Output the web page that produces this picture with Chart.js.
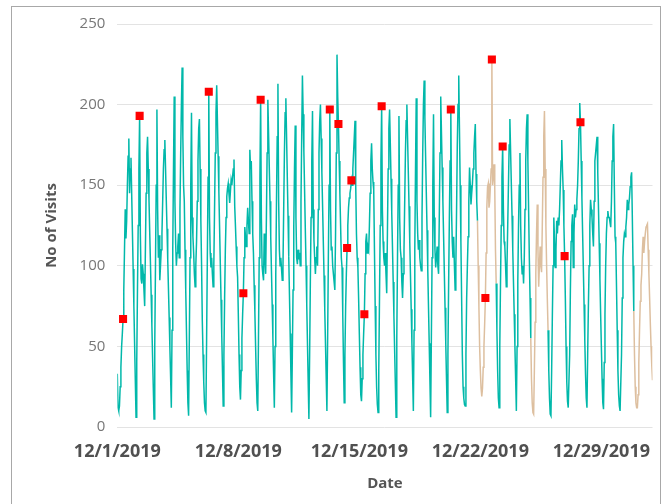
<!DOCTYPE html>
<html><head><meta charset="utf-8">
<script src="https://cdn.jsdelivr.net/npm/chart.js@4.4.1/dist/chart.umd.min.js"></script>
<style>
html,body{margin:0;padding:0;background:#fff;}
#wrap{position:relative;width:667px;height:504px;overflow:hidden;}
#frame{position:absolute;left:11px;top:6px;width:650px;height:540px;border:1px solid #a8a8a8;box-sizing:border-box;}
#c{position:absolute;left:0;top:0;}
</style></head>
<body><div id="wrap"><div id="frame"></div><canvas id="c" width="667" height="504"></canvas></div>
<script>
// Hourly visits, 1 Dec 2019 00:00 .. 31 Dec 2019 23:00 (one row per day)
const visits = [
 33,12,10,13,25,37,50,58,67,85,110,135,117,128,150,168,179,145,160,167,144,121,98,75,
 52,29,6,40,85,125,160,193,120,92,89,101,95,85,75,110,145,170,180,160,141,121,102,82,
 63,43,24,5,50,100,150,197,135,105,119,91,100,110,120,140,160,172,178,160,141,123,104,86,
 68,49,31,12,60,110,160,205,140,114,100,108,112,120,105,135,170,200,223,180,150,140,110,85,
 60,35,15,7,55,105,150,195,130,118,108,95,87,100,115,140,165,185,191,160,128,100,66,45,
 28,15,10,9,55,105,155,208,130,108,99,105,95,87,100,135,170,195,212,190,168,146,124,101,
 79,57,35,13,45,80,110,130,143,148,151,145,139,146,153,150,155,160,166,137,125,112,100,93,
 70,45,25,17,35,55,70,83,105,124,118,112,125,136,128,120,172,160,165,140,120,108,88,71,
 50,30,15,10,55,105,155,203,130,100,95,91,120,105,95,130,170,203,182,161,140,118,97,76,
 55,33,12,50,95,140,180,213,140,110,100,105,98,91,100,135,170,195,204,180,155,131,106,82,
 58,33,9,45,85,125,160,187,130,105,101,110,104,108,100,140,180,218,194,171,147,123,100,76,
 52,28,5,45,90,130,165,196,135,116,105,95,105,112,100,135,170,190,200,179,158,137,115,94,
 73,52,31,10,55,105,150,197,135,110,112,100,95,90,85,120,170,231,205,188,165,145,125,105,
 99,70,40,15,45,75,95,111,125,136,142,145,148,153,150,160,170,180,190,150,120,105,99,80,
 58,37,20,16,30,45,58,70,95,115,120,108,112,110,125,145,165,176,160,152,147,110,75,45,
 25,14,9,35,80,125,165,199,135,115,105,100,108,95,83,120,160,185,197,176,154,133,112,90,
 69,48,27,6,55,105,150,193,130,110,105,90,80,95,110,140,170,190,200,179,158,137,115,94,
 73,52,31,10,60,110,160,204,140,120,110,116,105,100,97,130,170,200,215,192,168,145,122,98,
 75,52,29,6,55,105,150,194,130,110,99,105,112,100,95,130,170,205,183,161,140,118,96,74,
 52,30,9,45,90,130,165,197,135,115,105,118,100,85,100,135,175,200,218,185,150,115,80,45,
 25,18,14,13,45,80,100,118,140,161,150,138,145,151,160,170,180,188,157,140,128,100,75,50,
 35,24,19,24,37,50,64,80,108,136,149,151,136,140,150,160,228,150,155,163,149,110,89,60,
 35,18,12,50,90,125,155,174,135,115,112,100,87,100,125,150,175,191,171,151,131,110,90,70,
 50,30,10,50,90,125,150,170,125,105,95,100,89,105,135,165,185,194,165,135,105,80,55,30,
 15,9,8,35,65,95,120,138,110,87,100,112,100,96,125,155,180,196,160,125,100,79,60,35,
 18,8,7,35,70,100,130,115,99,110,128,120,130,125,135,150,165,178,160,147,125,106,80,50,
 28,16,12,12,45,85,115,125,132,99,120,138,130,135,141,150,165,185,201,189,165,142,120,98,
 76,54,33,18,12,45,75,100,125,141,135,130,120,112,140,165,170,175,180,158,136,114,92,70,
 50,30,15,11,40,70,100,120,130,134,130,130,127,124,140,165,180,188,150,118,114,88,60,35,
 20,13,10,10,45,80,105,115,120,118,124,130,141,135,138,142,149,155,158,130,100,72,45,25,
 15,12,12,20,40,60,78,88,95,110,118,108,115,120,124,125,126,110,95,80,64,50,38,29
];
// hour-index ranges drawn in the second (tan) colour
const altRanges = [[500, 526], [574, 598], [717, 743]];
// hour indices flagged as anomalies (red squares)
const anomalyHours = [8, 31, 127, 175, 199, 295, 307, 319, 325, 343, 367, 463, 511, 520, 535, 621, 643];
// x-axis ticks
const tickHours = [0, 168, 336, 504, 672];
const tickLabels = ['12/1/2019', '12/8/2019', '12/15/2019', '12/22/2019', '12/29/2019'];
const yTicks = [0, 50, 100, 150, 200, 250];

const TEAL = '#01B8AA', TAN = '#DDBF9F';
const isAlt = (a, b) => altRanges.some(([s, e]) => a >= s && b <= e);

new Chart(document.getElementById('c'), {
  type: 'line',
  data: {
    datasets: [
      {
        type: 'scatter',
        data: anomalyHours.map(h => ({x: h, y: visits[h]})),
        pointStyle: 'rect', pointRadius: 5.7, pointHoverRadius: 5.7,
        backgroundColor: '#ff0000', borderWidth: 0, order: 0
      },
      {
        type: 'line',
        data: visits.map((v, i) => ({x: i, y: v})),
        borderColor: TEAL, borderWidth: 1.5, pointRadius: 0, tension: 0, fill: false,
        segment: {borderColor: ctx => isAlt(ctx.p0DataIndex, ctx.p1DataIndex) ? TAN : TEAL},
        order: 1
      }
    ]
  },
  options: {
    responsive: false, animation: false, devicePixelRatio: 1,
    layout: {padding: {top: 24, right: 14.5, bottom: 0, left: 0}},
    plugins: {legend: {display: false}, tooltip: {enabled: false}},
    scales: {
      x: {
        type: 'linear', min: 0, max: 743,
        afterBuildTicks: s => { s.ticks = tickHours.map(v => ({value: v})); },
        afterFit: s => { s.height = 77; },
        grid: {display: false, drawTicks: false}, border: {display: false},
        ticks: {autoSkip: false, maxRotation: 0, padding: 14, color: '#505050',
          font: {family: 'Open Sans', size: 18, weight: 'bold'},
          callback: v => tickLabels[tickHours.indexOf(v)]},
        title: {display: true, text: 'Date', color: '#555',
          font: {family: 'Open Sans', size: 15, weight: 'bold'}, padding: {top: 0, bottom: 11}}
      },
      y: {
        min: 0, max: 250,
        afterBuildTicks: s => { s.ticks = yTicks.map(v => ({value: v})); },
        afterFit: s => { s.width = 117.3; },
        grid: {color: '#e3e3e3', drawTicks: false}, border: {display: false},
        ticks: {padding: 12, color: '#777', font: {family: 'Open Sans', size: 15}},
        title: {display: true, text: 'No of Visits', color: '#555',
          font: {family: 'Open Sans', size: 15, weight: 'bold'}, padding: {top: 43, bottom: 0}}
      }
    }
  }
});
</script>
</body></html>
